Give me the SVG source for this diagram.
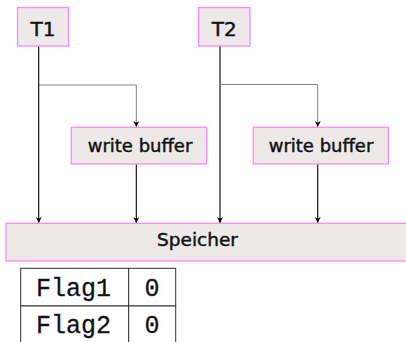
<svg xmlns="http://www.w3.org/2000/svg" width="406" height="342" viewBox="0 0 406 342">
  <style>
    .box { fill: #ece9e8; stroke: #ff88f4; stroke-width: 1.3; }
    .lbl { font-family: "DejaVu Sans", "Liberation Sans", sans-serif; fill: #111; stroke: #111; stroke-width: 0.45; text-anchor: middle; }
    .main { stroke: #000; stroke-width: 1.1; fill: none; }
    .branch { stroke: #666; stroke-width: 0.8; fill: none; }
    .cell { fill: #fff; stroke: #333; stroke-width: 1; }
    .mono { font-family: 'Liberation Mono', 'Courier New', Courier, monospace; font-size: 25px; fill: #111; stroke: #111; stroke-width: 0.3; text-anchor: middle; }
  </style>
  <defs>
    <marker id="head" viewBox="0 0 10 10" refX="10" refY="5" markerWidth="6" markerHeight="6" markerUnits="userSpaceOnUse" orient="auto">
      <path d="M0,0 L10,5 L0,10 L3,5 Z" fill="#000"/>
    </marker>
  </defs>

  <g id="connectors">
    <!-- T1 to memory, with branch to its write buffer -->
    <path class="main" d="M38.7,46 V223" marker-end="url(#head)"/>
    <path class="branch" d="M38.7,85 H136.3 V127" marker-end="url(#head)"/>
    <path class="main" d="M136.3,164 V223" marker-end="url(#head)"/>
    <!-- T2 to memory, with branch to its write buffer -->
    <path class="main" d="M220,46 V223" marker-end="url(#head)"/>
    <path class="branch" d="M220,84.5 H317.7 V127" marker-end="url(#head)"/>
    <path class="main" d="M317.7,164 V223" marker-end="url(#head)"/>
  </g>

  <g id="t1">
    <rect class="box" x="17.5" y="7.5" width="51" height="38.5"/>
    <text class="lbl" x="43" y="35.5" font-size="20">T1</text>
  </g>
  <g id="t2">
    <rect class="box" x="198.5" y="7.5" width="51.5" height="38.5"/>
    <text class="lbl" x="224.3" y="35.5" font-size="20">T2</text>
  </g>
  <g id="wb1">
    <rect class="box" x="71.3" y="127.3" width="135.4" height="36.7"/>
    <text class="lbl" x="140" y="151.7" font-size="18">write buffer</text>
  </g>
  <g id="wb2">
    <rect class="box" x="253.3" y="127.3" width="135" height="36.7"/>
    <text class="lbl" x="321" y="151.7" font-size="18">write buffer</text>
  </g>
  <g id="speicher">
    <rect class="box" x="6" y="223.3" width="410" height="37.7"/>
    <text class="lbl" x="197.5" y="246" font-size="18.5">Speicher</text>
  </g>

  <g id="flags">
    <rect class="cell" x="20.7" y="268.3" width="108" height="37.7"/>
    <rect class="cell" x="128.7" y="268.3" width="47" height="37.7"/>
    <rect class="cell" x="20.7" y="306" width="108" height="37.7"/>
    <rect class="cell" x="128.7" y="306" width="47" height="37.7"/>
    <text class="mono" x="73.5" y="296">Flag1</text>
    <text class="mono" x="152" y="296">0</text>
    <text class="mono" x="73.5" y="333">Flag2</text>
    <text class="mono" x="152" y="333">0</text>
  </g>
</svg>
